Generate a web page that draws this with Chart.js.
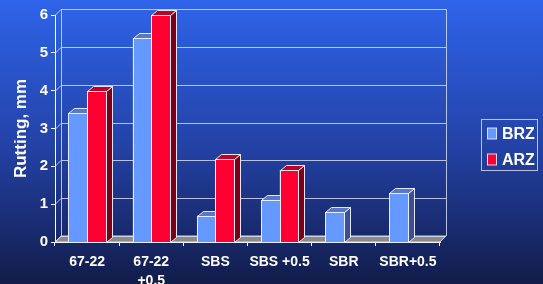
<!DOCTYPE html>
<html>
<head>
<meta charset="utf-8">
<script src="https://cdn.jsdelivr.net/npm/chart.js@4"></script>
<style>
html,body{margin:0;padding:0;background:#1a2a70;}
#wrap{width:543px;height:284px;position:relative;}
</style>
</head>
<body>
<div id="wrap"><canvas id="c" width="543" height="284"></canvas></div>
<script>
const categories = ['67-22', ['67-22', '+0.5'], 'SBS', 'SBS +0.5', 'SBR', 'SBR+0.5'];
const seriesNames = ['BRZ', 'ARZ'];
const brzValues = [3.4, 5.4, 0.7, 1.1, 0.8, 1.3];
const arzValues = [4.0, 6.0, 2.2, 1.9, null, null];
const yTicks = [0, 1, 2, 3, 4, 5, 6];
const yTitle = 'Rutting, mm';

const FRONT = ['#6699ff', '#ff0033'];
const TOP = ['#5a78c8', '#c2001f'];
const SIDE = ['#3c4f90', '#7c0018'];
const EDGE = 'rgba(236,240,255,0.95)';
const DX = 6, DY = 6, BDX = 6, BDY = 5;

const bgPlugin = {
  id: 'bg',
  beforeDraw(chart) {
    const ctx = chart.ctx;
    const g = ctx.createLinearGradient(0, 0, 0, chart.height);
    g.addColorStop(0, '#2f64ea');
    g.addColorStop(0.5, '#2443a8');
    g.addColorStop(1, '#121c4a');
    ctx.save();
    ctx.fillStyle = g;
    ctx.fillRect(0, 0, chart.width, chart.height);
    ctx.restore();
  }
};

const wallPlugin = {
  id: 'walls',
  beforeDatasetsDraw(chart) {
    const ctx = chart.ctx;
    const {left, right, top, bottom} = chart.chartArea;
    const ys = chart.scales.y;
    ctx.save();
    ctx.lineWidth = 1;
    // floor
    ctx.fillStyle = '#8a8a8a';
    ctx.beginPath();
    ctx.moveTo(left, bottom);
    ctx.lineTo(right, bottom);
    ctx.lineTo(right + DX, bottom - DY);
    ctx.lineTo(left + DX, bottom - DY);
    ctx.closePath();
    ctx.fill();
    ctx.strokeStyle = 'rgba(225,230,245,0.9)';
    ctx.stroke();
    // back grid lines
    ctx.strokeStyle = 'rgba(210,218,240,0.85)';
    yTicks.forEach(v => {
      const y = Math.round(ys.getPixelForValue(v) - DY) + 0.5;
      ctx.beginPath();
      ctx.moveTo(left + DX, y);
      ctx.lineTo(right + DX, y);
      ctx.stroke();
      // left wall diagonal
      ctx.beginPath();
      ctx.moveTo(left, y + DY);
      ctx.lineTo(left + DX, y);
      ctx.stroke();
    });
    // back wall verticals
    ctx.beginPath();
    ctx.moveTo(Math.round(left + DX) + 0.5, top - DY);
    ctx.lineTo(Math.round(left + DX) + 0.5, bottom - DY);
    ctx.moveTo(Math.round(right + DX) + 0.5, top - DY);
    ctx.lineTo(Math.round(right + DX) + 0.5, bottom - DY);
    ctx.stroke();
    ctx.restore();
  },
  afterDatasetsDraw(chart) {
    const ctx = chart.ctx;
    const metas = [chart.getDatasetMeta(0), chart.getDatasetMeta(1)];
    ctx.save();
    ctx.lineWidth = 1;
    ctx.strokeStyle = EDGE;
    for (let i = 0; i < categories.length; i++) {
      metas.forEach((meta, d) => {
        const val = chart.data.datasets[d].data[i];
        if (val === null || val === undefined) return;
        const el = meta.data[i];
        const p = el.getProps(['x', 'y', 'base', 'width'], true);
        const x0 = Math.round(p.x - p.width / 2) + 0.5;
        const x1 = Math.round(p.x + p.width / 2) + 0.5;
        const yt = Math.round(p.y) + 0.5;
        const yb = Math.round(p.base) + 0.5;
        // side
        ctx.fillStyle = SIDE[d];
        ctx.beginPath();
        ctx.moveTo(x1, yt);
        ctx.lineTo(x1 + BDX, yt - BDY);
        ctx.lineTo(x1 + BDX, yb - BDY);
        ctx.lineTo(x1, yb);
        ctx.closePath();
        ctx.fill();
        ctx.stroke();
        // top
        ctx.fillStyle = TOP[d];
        ctx.beginPath();
        ctx.moveTo(x0, yt);
        ctx.lineTo(x1, yt);
        ctx.lineTo(x1 + BDX, yt - BDY);
        ctx.lineTo(x0 + BDX, yt - BDY);
        ctx.closePath();
        ctx.fill();
        ctx.stroke();
        // front
        ctx.fillStyle = FRONT[d];
        ctx.fillRect(x0, yt, x1 - x0, yb - yt);
        ctx.strokeRect(x0, yt, x1 - x0, yb - yt);
      });
    }
    ctx.restore();
  },
  afterDraw(chart) {
    // legend
    const ctx = chart.ctx;
    ctx.save();
    ctx.strokeStyle = 'rgba(200,208,230,0.9)';
    ctx.lineWidth = 1;
    ctx.strokeRect(481.5, 119.5, 56, 51);
    const ys = [133.5, 159.5];
    seriesNames.forEach((name, d) => {
      ctx.fillStyle = FRONT[d];
      ctx.fillRect(487.5, ys[d] - 5.5, 9, 11);
      ctx.strokeStyle = 'rgba(230,235,250,0.9)';
      ctx.strokeRect(487.5, ys[d] - 5.5, 9, 11);
      ctx.fillStyle = '#ffffff';
      ctx.font = 'bold 16px "Liberation Sans", Arial, sans-serif';
      ctx.textBaseline = 'middle';
      ctx.textAlign = 'left';
      ctx.fillText(name, 502, ys[d] + 1);
    });
    ctx.restore();
  }
};

new Chart(document.getElementById('c'), {
  type: 'bar',
  data: {
    labels: categories,
    datasets: [
      {label: seriesNames[0], data: brzValues, backgroundColor: FRONT[0], borderColor: EDGE, borderWidth: 1},
      {label: seriesNames[1], data: arzValues, backgroundColor: FRONT[1], borderColor: EDGE, borderWidth: 1}
    ]
  },
  options: {
    responsive: false,
    animation: false,
    devicePixelRatio: 1,
    categoryPercentage: 0.58,
    barPercentage: 1.0,
    layout: {padding: {top: 15, right: 103, left: 0, bottom: 0}},
    plugins: {legend: {display: false}, tooltip: {enabled: false}},
    scales: {
      x: {
        offset: true,
        grid: {display: true, offset: true, drawOnChartArea: false, drawTicks: true, tickLength: 4, color: '#ffffff'},
        border: {display: true, color: '#ffffff'},
        ticks: {color: '#ffffff', font: {family: '"Liberation Sans", Arial, sans-serif', size: 14, weight: 'bold', lineHeight: 1.35}, padding: 7, maxRotation: 0, autoSkip: false},
        afterFit(s) { s.height = 42; }
      },
      y: {
        min: 0, max: 6,
        grid: {display: true, drawOnChartArea: false, drawTicks: true, tickLength: 4, color: '#ffffff'},
        border: {display: true, color: '#ffffff'},
        ticks: {stepSize: 1, color: '#ffffff', font: {family: '"Liberation Sans", Arial, sans-serif', size: 15, weight: 'bold'}, padding: 3,
          callback: (v) => yTicks.includes(v) ? String(v) : ''},
        title: {display: true, text: yTitle, color: '#ffffff', font: {family: '"Liberation Sans", Arial, sans-serif', size: 17, weight: 'bold', lineHeight: 1.2}, padding: {top: 11, bottom: 0}},
        afterFit(s) { s.width = 55; }
      }
    }
  },
  plugins: [bgPlugin, wallPlugin]
});
</script>
</body>
</html>
